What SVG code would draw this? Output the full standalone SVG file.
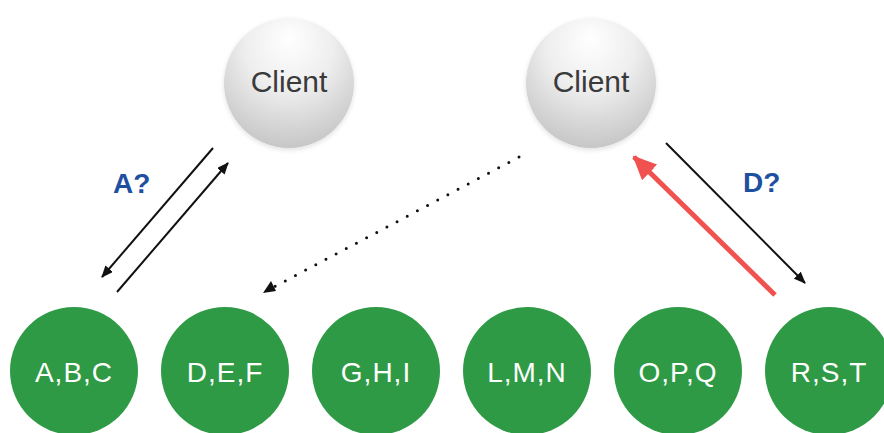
<svg xmlns="http://www.w3.org/2000/svg" width="884" height="433" viewBox="0 0 884 433">
<defs>
<radialGradient id="cg" cx="50%" cy="30%" r="75%" fx="50%" fy="15%">
<stop offset="0" stop-color="#ffffff"/>
<stop offset="0.45" stop-color="#eeeeee"/>
<stop offset="1" stop-color="#c2c2c2"/>
</radialGradient>
<filter id="sh" x="-20%" y="-20%" width="140%" height="140%">
<feGaussianBlur in="SourceAlpha" stdDeviation="2.5"/>
<feOffset dx="0" dy="2" result="b"/>
<feComponentTransfer><feFuncA type="linear" slope="0.12"/></feComponentTransfer>
<feMerge><feMergeNode/><feMergeNode in="SourceGraphic"/></feMerge>
</filter>
<marker id="ab" viewBox="0 0 12 10" refX="11" refY="5" markerWidth="12" markerHeight="10" markerUnits="userSpaceOnUse" orient="auto">
<path d="M0,0 L12,5 L0,10 Z" fill="#111"/>
</marker>
<marker id="ar" viewBox="0 0 24 22" refX="22" refY="11" markerWidth="24" markerHeight="22" markerUnits="userSpaceOnUse" orient="auto">
<path d="M0,0 L24,11 L0,22 Z" fill="#f05250"/>
</marker>
</defs>
<style>
.client{fill:url(#cg);filter:url(#sh)}
.ct{font-family:"Liberation Sans",Arial,sans-serif;font-size:30px;fill:#3a3a3a;text-anchor:middle}
.srv{fill:#2e9a45}
.st{font-family:"Liberation Sans",Arial,sans-serif;font-size:28px;fill:#ffffff;text-anchor:middle;letter-spacing:1px}
.lbl{font-family:"Liberation Sans",Arial,sans-serif;font-size:28px;font-weight:bold;fill:#1f4f9f}
.ln{stroke:#111;stroke-width:2;fill:none}
</style>
<rect width="884" height="433" fill="#ffffff"/>
<g id="client1"><circle class="client" cx="289" cy="83" r="65"/><text class="ct" x="289" y="92">Client</text></g>
<g id="client2"><circle class="client" cx="591" cy="83" r="65"/><text class="ct" x="591" y="92">Client</text></g>
<g id="n1"><circle class="srv" cx="74" cy="371" r="64"/><text class="st" x="74" y="382">A,B,C</text></g>
<g id="n2"><circle class="srv" cx="225" cy="371" r="64"/><text class="st" x="225" y="382">D,E,F</text></g>
<g id="n3"><circle class="srv" cx="376" cy="371" r="64"/><text class="st" x="376" y="382">G,H,I</text></g>
<g id="n4"><circle class="srv" cx="527" cy="371" r="64"/><text class="st" x="527" y="382">L,M,N</text></g>
<g id="n5"><circle class="srv" cx="678" cy="371" r="64"/><text class="st" x="678" y="382">O,P,Q</text></g>
<g id="n6"><circle class="srv" cx="829" cy="371" r="64"/><text class="st" x="829" y="382">R,S,T</text></g>
<g id="connectors">
<line class="ln" x1="213" y1="148" x2="102" y2="277" marker-end="url(#ab)"/>
<line class="ln" x1="117" y1="292" x2="228" y2="163" marker-end="url(#ab)"/>
<line x1="519" y1="157" x2="270" y2="289" stroke="#111" stroke-width="3" stroke-linecap="round" stroke-dasharray="0 11.5" fill="none"/>
<path d="M263,293 L271,281 L276,291 Z" fill="#111"/>
<line class="ln" x1="666" y1="143" x2="805" y2="283" marker-end="url(#ab)"/>
<line x1="775" y1="295" x2="634" y2="157" stroke="#f05250" stroke-width="5" marker-end="url(#ar)"/>
<text class="lbl" x="113" y="193">A?</text>
<text class="lbl" x="743" y="192">D?</text>
</g>
</svg>
